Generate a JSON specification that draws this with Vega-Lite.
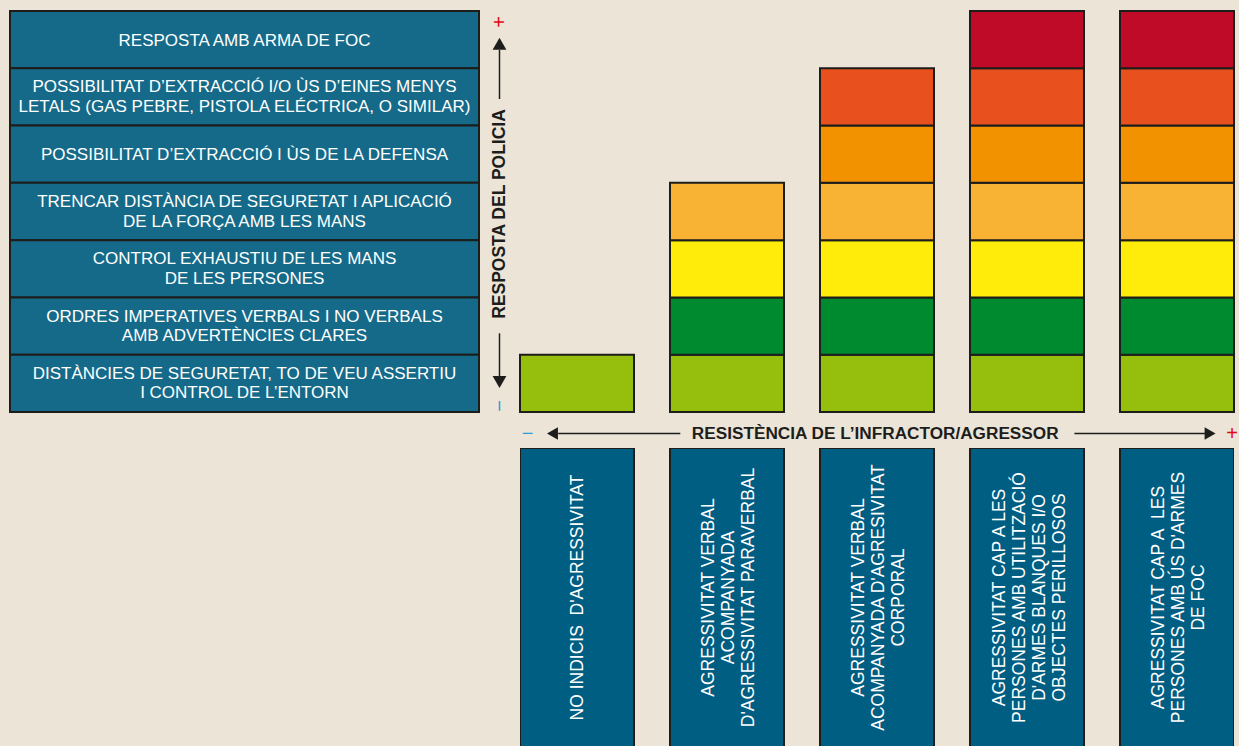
{
  "$schema": "https://vega.github.io/schema/vega-lite/v6.json",
  "background": "#ebe4d7",
  "padding": {"left": 9, "top": 10, "right": 0, "bottom": 0},
  "config": {
    "font": "Liberation Sans",
    "view": {"stroke": null},
    "concat": {"spacing": 0}
  },
  "spacing": 0,
  "hconcat": [
    {
      "width": 469,
      "height": 401,
      "data": {"values": [
        {"nivell": 7, "resposta": ["RESPOSTA AMB ARMA DE FOC"]},
        {"nivell": 6, "resposta": ["POSSIBILITAT D’EXTRACCIÓ I/O ÙS D’EINES MENYS", "LETALS (GAS PEBRE, PISTOLA ELÉCTRICA, O SIMILAR)"]},
        {"nivell": 5, "resposta": ["POSSIBILITAT D’EXTRACCIÓ I ÙS DE LA DEFENSA"]},
        {"nivell": 4, "resposta": ["TRENCAR DISTÀNCIA DE SEGURETAT I APLICACIÓ", "DE LA FORÇA AMB LES MANS"]},
        {"nivell": 3, "resposta": ["CONTROL EXHAUSTIU DE LES MANS", "DE LES PERSONES"]},
        {"nivell": 2, "resposta": ["ORDRES IMPERATIVES VERBALS I NO VERBALS", "AMB ADVERTÈNCIES CLARES"]},
        {"nivell": 1, "resposta": ["DISTÀNCIES DE SEGURETAT, TO DE VEU ASSERTIU", "I CONTROL DE L’ENTORN"]}
      ]},
      "layer": [
        {
          "mark": {"type": "rect", "fill": "#166a89", "stroke": "#1d1d1b", "strokeWidth": 2},
          "encoding": {
            "y": {"field": "nivell", "type": "ordinal", "axis": null,
                  "scale": {"domain": [7, 6, 5, 4, 3, 2, 1], "paddingInner": 0, "paddingOuter": 0}}
          }
        },
        {
          "transform": [{"filter": "length(datum.resposta) == 1"}],
          "mark": {"type": "text", "color": "#ffffff", "fontSize": 17, "lineHeight": 19.5, "align": "center", "baseline": "middle", "dy": 1},
          "encoding": {
            "y": {"field": "nivell", "type": "ordinal", "axis": null,
                  "scale": {"domain": [7, 6, 5, 4, 3, 2, 1], "paddingInner": 0, "paddingOuter": 0}},
            "text": {"field": "resposta", "type": "nominal"}
          }
        },
        {
          "transform": [{"filter": "length(datum.resposta) == 2"}],
          "mark": {"type": "text", "color": "#ffffff", "fontSize": 17, "lineHeight": 19.5, "align": "center", "baseline": "middle", "dy": -9.5},
          "encoding": {
            "y": {"field": "nivell", "type": "ordinal", "axis": null,
                  "scale": {"domain": [7, 6, 5, 4, 3, 2, 1], "paddingInner": 0, "paddingOuter": 0}},
            "text": {"field": "resposta", "type": "nominal"}
          }
        }
      ]
    },
    {
      "width": 39,
      "height": 401,
      "layer": [
        {
          "data": {"values": [{"t0": 0.088, "t1": 0.1962}, {"t0": 0.7805, "t1": 0.9027}]},
          "mark": {"type": "rule", "stroke": "#1d1d1b", "strokeWidth": 1.5},
          "encoding": {
            "y": {"field": "t0", "type": "quantitative", "axis": null, "scale": {"domain": [0, 1], "nice": false, "zero": false}},
            "y2": {"field": "t1"}
          }
        },
        {
          "data": {"values": [{"t": 0.9185}]},
          "mark": {"type": "point", "shape": "triangle-up", "filled": true, "size": 190, "color": "#1d1d1b", "opacity": 1},
          "encoding": {
            "y": {"field": "t", "type": "quantitative", "axis": null, "scale": {"domain": [0, 1], "nice": false, "zero": false}}
          }
        },
        {
          "data": {"values": [{"t": 0.0748}]},
          "mark": {"type": "point", "shape": "triangle-down", "filled": true, "size": 190, "color": "#1d1d1b", "opacity": 1},
          "encoding": {
            "y": {"field": "t", "type": "quantitative", "axis": null, "scale": {"domain": [0, 1], "nice": false, "zero": false}}
          }
        },
        {
          "data": {"values": [{"t": 0.4938, "titol": "RESPOSTA DEL POLICIA"}]},
          "mark": {"type": "text", "angle": 270, "fontWeight": "bold", "fontSize": 17.5, "color": "#1d1d1b", "align": "center", "baseline": "middle"},
          "encoding": {
            "y": {"field": "t", "type": "quantitative", "axis": null, "scale": {"domain": [0, 1], "nice": false, "zero": false}},
            "text": {"field": "titol", "type": "nominal"}
          }
        },
        {
          "data": {"values": [{"t": 0.9726, "signe": "+"}]},
          "mark": {"type": "text", "angle": 270, "fontSize": 20, "color": "#e30613", "align": "center", "baseline": "middle"},
          "encoding": {
            "y": {"field": "t", "type": "quantitative", "axis": null, "scale": {"domain": [0, 1], "nice": false, "zero": false}},
            "text": {"field": "signe", "type": "nominal"}
          }
        },
        {
          "data": {"values": [{"t": 0.015, "signe": "−"}]},
          "mark": {"type": "text", "angle": 270, "fontSize": 20, "color": "#2a9bd7", "align": "center", "baseline": "middle"},
          "encoding": {
            "y": {"field": "t", "type": "quantitative", "axis": null, "scale": {"domain": [0, 1], "nice": false, "zero": false}},
            "text": {"field": "signe", "type": "nominal"}
          }
        }
      ]
    },
    {
      "spacing": 0,
      "vconcat": [
        {
          "width": 714,
          "height": 401,
          "data": {"values": [
            {"resistencia": 1, "nivell": 1},
            {"resistencia": 2, "nivell": 1}, {"resistencia": 2, "nivell": 2}, {"resistencia": 2, "nivell": 3}, {"resistencia": 2, "nivell": 4},
            {"resistencia": 3, "nivell": 1}, {"resistencia": 3, "nivell": 2}, {"resistencia": 3, "nivell": 3}, {"resistencia": 3, "nivell": 4}, {"resistencia": 3, "nivell": 5}, {"resistencia": 3, "nivell": 6},
            {"resistencia": 4, "nivell": 1}, {"resistencia": 4, "nivell": 2}, {"resistencia": 4, "nivell": 3}, {"resistencia": 4, "nivell": 4}, {"resistencia": 4, "nivell": 5}, {"resistencia": 4, "nivell": 6}, {"resistencia": 4, "nivell": 7},
            {"resistencia": 5, "nivell": 1}, {"resistencia": 5, "nivell": 2}, {"resistencia": 5, "nivell": 3}, {"resistencia": 5, "nivell": 4}, {"resistencia": 5, "nivell": 5}, {"resistencia": 5, "nivell": 6}, {"resistencia": 5, "nivell": 7}
          ]},
          "mark": {"type": "rect", "stroke": "#1d1d1b", "strokeWidth": 2, "opacity": 1},
          "encoding": {
            "x": {"field": "resistencia", "type": "ordinal", "axis": null,
                  "scale": {"domain": [1, 2, 3, 4, 5], "paddingInner": 0.24, "paddingOuter": 0}},
            "y": {"field": "nivell", "type": "ordinal", "axis": null,
                  "scale": {"domain": [7, 6, 5, 4, 3, 2, 1], "paddingInner": 0, "paddingOuter": 0}},
            "color": {"field": "nivell", "type": "ordinal", "legend": null,
                      "scale": {"domain": [1, 2, 3, 4, 5, 6, 7],
                                "range": ["#96bf0d", "#008a2f", "#ffec0a", "#f8b334", "#f39200", "#e8511e", "#bf0b27"]}}
          }
        },
        {
          "width": 714,
          "height": 35,
          "layer": [
            {
              "data": {"values": [{"t0": 0.0535, "t1": 0.2245}, {"t0": 0.7765, "t1": 0.9595}]},
              "mark": {"type": "rule", "stroke": "#1d1d1b", "strokeWidth": 1.5, "yOffset": 3},
              "encoding": {
                "x": {"field": "t0", "type": "quantitative", "axis": null, "scale": {"domain": [0, 1], "nice": false, "zero": false}},
                "x2": {"field": "t1"}
              }
            },
            {
              "data": {"values": [{"t": 0.0455}]},
              "mark": {"type": "point", "shape": "triangle-left", "filled": true, "size": 160, "color": "#1d1d1b", "opacity": 1, "yOffset": 3},
              "encoding": {
                "x": {"field": "t", "type": "quantitative", "axis": null, "scale": {"domain": [0, 1], "nice": false, "zero": false}}
              }
            },
            {
              "data": {"values": [{"t": 0.9665}]},
              "mark": {"type": "point", "shape": "triangle-right", "filled": true, "size": 160, "color": "#1d1d1b", "opacity": 1, "yOffset": 3},
              "encoding": {
                "x": {"field": "t", "type": "quantitative", "axis": null, "scale": {"domain": [0, 1], "nice": false, "zero": false}}
              }
            },
            {
              "data": {"values": [{"t": 0.4975, "titol": "RESISTÈNCIA DE L’INFRACTOR/AGRESSOR"}]},
              "mark": {"type": "text", "fontWeight": "bold", "fontSize": 17.2, "color": "#1d1d1b", "align": "center", "baseline": "middle", "yOffset": 3},
              "encoding": {
                "x": {"field": "t", "type": "quantitative", "axis": null, "scale": {"domain": [0, 1], "nice": false, "zero": false}},
                "text": {"field": "titol", "type": "nominal"}
              }
            },
            {
              "data": {"values": [{"t": 0.0105, "signe": "−"}]},
              "mark": {"type": "text", "fontSize": 20, "color": "#2a9bd7", "align": "center", "baseline": "middle", "yOffset": 3},
              "encoding": {
                "x": {"field": "t", "type": "quantitative", "axis": null, "scale": {"domain": [0, 1], "nice": false, "zero": false}},
                "text": {"field": "signe", "type": "nominal"}
              }
            },
            {
              "data": {"values": [{"t": 0.9975, "signe": "+"}]},
              "mark": {"type": "text", "fontSize": 20, "color": "#e30613", "align": "center", "baseline": "middle", "yOffset": 3},
              "encoding": {
                "x": {"field": "t", "type": "quantitative", "axis": null, "scale": {"domain": [0, 1], "nice": false, "zero": false}},
                "text": {"field": "signe", "type": "nominal"}
              }
            }
          ]
        },
        {
          "width": 714,
          "height": 299,
          "data": {"values": [
            {"resistencia": 1, "descripcio": ["NO INDICIS\u00a0\u00a0D'AGRESSIVITAT"]},
            {"resistencia": 2, "descripcio": ["AGRESSIVITAT VERBAL", "ACOMPANYADA", "D'AGRESSIVITAT PARAVERBAL"]},
            {"resistencia": 3, "descripcio": ["AGRESSIVITAT VERBAL", "ACOMPANYADA D'AGRESIVITAT", "CORPORAL"]},
            {"resistencia": 4, "descripcio": ["AGRESSIVITAT CAP A LES", "PERSONES AMB UTILITZACIÓ", "D'ARMES BLANQUES I/O", "OBJECTES PERILLOSOS"]},
            {"resistencia": 5, "descripcio": ["AGRESSIVITAT CAP A\u00a0\u00a0LES", "PERSONES AMB ÚS D'ARMES", "DE FOC"]}
          ]},
          "layer": [
            {
              "mark": {"type": "rect", "fill": "#005e82", "stroke": "#1d1d1b", "strokeWidth": 2, "clip": true},
              "encoding": {
                "x": {"field": "resistencia", "type": "ordinal", "axis": null,
                      "scale": {"domain": [1, 2, 3, 4, 5], "paddingInner": 0.24, "paddingOuter": 0}}
              }
            },
            {
              "transform": [{"filter": "length(datum.descripcio) == 1"}],
              "mark": {"type": "text", "angle": 270, "color": "#ffffff", "fontSize": 17.5, "lineHeight": 20, "align": "center", "baseline": "middle", "dy": 1},
              "encoding": {
                "x": {"field": "resistencia", "type": "ordinal", "axis": null,
                      "scale": {"domain": [1, 2, 3, 4, 5], "paddingInner": 0.24, "paddingOuter": 0}},
                "text": {"field": "descripcio", "type": "nominal"}
              }
            },
            {
              "transform": [{"filter": "length(datum.descripcio) == 3"}],
              "mark": {"type": "text", "angle": 270, "color": "#ffffff", "fontSize": 17.5, "lineHeight": 20, "align": "center", "baseline": "middle", "dy": -18},
              "encoding": {
                "x": {"field": "resistencia", "type": "ordinal", "axis": null,
                      "scale": {"domain": [1, 2, 3, 4, 5], "paddingInner": 0.24, "paddingOuter": 0}},
                "text": {"field": "descripcio", "type": "nominal"}
              }
            },
            {
              "transform": [{"filter": "length(datum.descripcio) == 4"}],
              "mark": {"type": "text", "angle": 270, "color": "#ffffff", "fontSize": 17.5, "lineHeight": 20, "align": "center", "baseline": "middle", "dy": -27},
              "encoding": {
                "x": {"field": "resistencia", "type": "ordinal", "axis": null,
                      "scale": {"domain": [1, 2, 3, 4, 5], "paddingInner": 0.24, "paddingOuter": 0}},
                "text": {"field": "descripcio", "type": "nominal"}
              }
            }
          ]
        }
      ]
    }
  ]
}
